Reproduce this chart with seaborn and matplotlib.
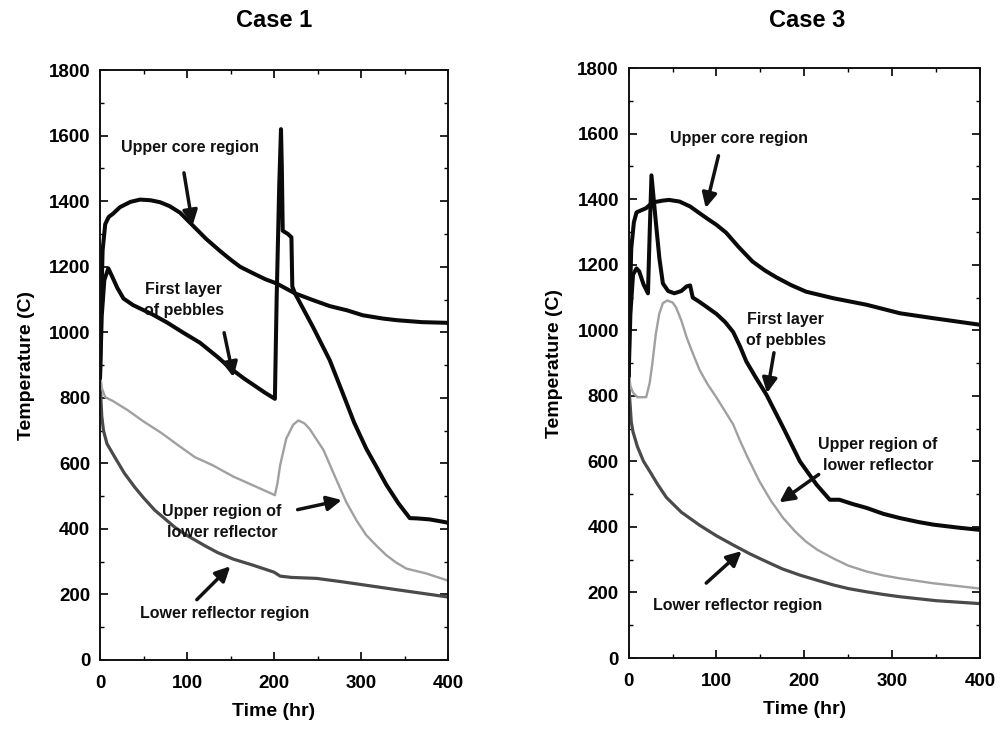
import matplotlib
matplotlib.use("Agg")
import matplotlib.pyplot as plt
import seaborn as sns
from matplotlib.ticker import MultipleLocator

# ---- Case 1 data (time in hr, temperature in C) ----
c1_core_t = [0, 1, 3, 6, 10, 15, 23, 35, 46, 58, 69, 80, 92, 107, 122, 138, 150, 161, 176, 190, 203, 224, 245, 264, 284, 302, 325, 341, 370, 398, 400]
c1_core_T = [860, 1050, 1250, 1330, 1352, 1362, 1382, 1398, 1405, 1403, 1397, 1385, 1365, 1325, 1285, 1248, 1222, 1200, 1180, 1162, 1149, 1119, 1098, 1080, 1067, 1052, 1042, 1037, 1031, 1029, 1028]

c1_peb_t = [0, 2, 5, 9.6, 14, 20, 27, 38, 60, 77, 95, 115, 135, 150, 165, 175, 190, 201, 203, 206, 208, 209, 210, 216, 220, 221, 224, 245, 264, 279, 292, 306, 318, 329, 343, 356, 365, 379, 398, 400]
c1_peb_T = [860, 1050, 1160, 1195, 1170, 1135, 1103, 1083, 1055, 1030, 1000, 968, 925, 890, 860, 842, 815, 797, 1100, 1450, 1620, 1500, 1310, 1300, 1290, 1140, 1119, 1015, 915, 814, 725, 645, 588, 535, 478, 433, 432, 429, 420, 418]

c1_upref_t = [0, 2, 6, 15, 32, 50, 71, 90, 109, 129, 153, 180, 201, 204, 207, 214, 222, 228, 235, 241, 257, 270, 283, 295, 306, 318, 329, 340, 352, 375, 398, 400]
c1_upref_T = [880, 830, 802, 790, 762, 728, 692, 655, 619, 595, 560, 528, 503, 540, 594, 675, 718, 731, 722, 705, 640, 560, 482, 425, 381, 348, 320, 298, 279, 264, 244, 242]

c1_lowref_t = [0, 1, 2, 4, 8, 17, 28, 40, 50, 63, 75, 86, 100, 121, 135, 153, 175, 191, 200, 207, 220, 249, 280, 306, 345, 398, 400]
c1_lowref_T = [880, 800, 745, 700, 660, 619, 570, 527, 495, 457, 430, 405, 380, 348, 328, 308, 290, 276, 268, 256, 252, 249, 238, 228, 213, 193, 192]

# ---- Case 3 data ----
c3_core_t = [0, 1, 3, 6, 9, 20, 27, 39, 46, 58, 70, 81, 90, 100, 111, 125, 141, 155, 168, 185, 202, 233, 271, 309, 347, 400]
c3_core_T = [860, 1050, 1250, 1330, 1360, 1373, 1390, 1396, 1398, 1393, 1378, 1357, 1340, 1322, 1298, 1255, 1210, 1183, 1162, 1138, 1118, 1098, 1078, 1052, 1037, 1017]

c3_peb_t = [0, 2, 5, 9, 12, 17, 22, 24, 26, 31, 35, 39, 45, 52, 60, 66, 70, 73, 80, 88, 100, 110, 119, 127, 134, 145, 157, 176, 195, 214, 229, 240, 255, 271, 290, 309, 330, 347, 375, 400]
c3_peb_T = [860, 1050, 1170, 1189, 1180, 1140, 1113, 1300, 1473, 1330, 1220, 1143, 1120, 1113, 1120, 1134, 1137, 1100, 1088, 1073, 1050, 1025, 995, 950, 905, 855, 803, 703, 600, 529, 483, 483, 470, 458, 440, 427, 415, 407, 398, 391]

c3_upref_t = [0, 2, 5, 10, 20, 24, 27, 31, 35, 39, 44, 50, 54, 60, 66, 73, 81, 90, 100, 110, 119, 127, 135, 149, 162, 176, 190, 202, 215, 233, 250, 271, 290, 309, 347, 400]
c3_upref_T = [876, 830, 810, 796, 796, 840, 899, 990, 1052, 1083, 1091, 1085, 1070, 1030, 979, 930, 878, 835, 795, 752, 713, 662, 615, 539, 480, 427, 385, 355, 330, 304, 282, 264, 252, 243, 228, 212]

c3_lowref_t = [0, 1, 3, 5, 10, 17, 24, 33, 43, 60, 81, 100, 119, 138, 157, 175, 195, 215, 233, 250, 271, 290, 309, 350, 400]
c3_lowref_T = [876, 800, 720, 690, 645, 600, 570, 530, 490, 445, 405, 373, 345, 318, 294, 272, 253, 237, 223, 212, 202, 194, 187, 175, 166]

titles = ["Case 1", "Case 3"]
x_label = "Time (hr)"
y_label = "Temperature (C)"

sns.set_style("ticks")
plt.rcParams['font.family'] = ['Liberation Sans', 'DejaVu Sans']
plt.rcParams['font.weight'] = 'bold'
plt.rcParams['text.color'] = 'black'
plt.rcParams['axes.labelcolor'] = 'black'
plt.rcParams['xtick.color'] = 'black'
plt.rcParams['ytick.color'] = 'black'

fig = plt.figure(figsize=(10.01, 7.30), dpi=100)
ax1 = fig.add_axes([0.0999, 0.0959, 0.3477, 0.808])
ax2 = fig.add_axes([0.628, 0.0986, 0.351, 0.808])

BLACK = '#0a0a0a'
LIGHT = '#a0a0a0'
DARK = '#4a4a4a'


def draw_case(ax, core, peb, upref, lowref):
    sns.lineplot(x=lowref[0], y=lowref[1], ax=ax, color=DARK, linewidth=2.3, sort=False, estimator=None)
    sns.lineplot(x=upref[0], y=upref[1], ax=ax, color=LIGHT, linewidth=1.7, sort=False, estimator=None)
    sns.lineplot(x=core[0], y=core[1], ax=ax, color=BLACK, linewidth=2.9, sort=False, estimator=None)
    sns.lineplot(x=peb[0], y=peb[1], ax=ax, color=BLACK, linewidth=2.9, sort=False, estimator=None)
    ax.set_xlim(0, 400)
    ax.set_ylim(0, 1800)
    ax.xaxis.set_major_locator(MultipleLocator(100))
    ax.xaxis.set_minor_locator(MultipleLocator(50))
    ax.yaxis.set_major_locator(MultipleLocator(200))
    ax.yaxis.set_minor_locator(MultipleLocator(100))
    ax.tick_params(which='both', direction='in', top=True, right=True, labelsize=13.5)
    ax.tick_params(axis='x', pad=11)
    ax.tick_params(axis='y', pad=7)
    ax.tick_params(which='major', length=6, width=1.2)
    ax.tick_params(which='minor', length=3, width=1)
    for lbl in ax.get_xticklabels() + ax.get_yticklabels():
        lbl.set_fontweight('bold')
    for s in ax.spines.values():
        s.set_linewidth(1.4)
        s.set_color('#111111')
    ax.set_xlabel(x_label, fontsize=14, fontweight='bold', labelpad=8)
    ax.set_ylabel(y_label, fontsize=14, fontweight='bold', labelpad=10)


def note(ax, text, pos, tail, tip):
    ax.text(pos[0], pos[1], text, ha='center', va='center', fontsize=11.5,
            fontweight='bold', linespacing=1.5, color='#111111')
    ax.annotate('', xy=tip, xytext=tail,
                arrowprops=dict(arrowstyle='-|>', color='#111111', lw=2.5, mutation_scale=22))


draw_case(ax1, (c1_core_t, c1_core_T), (c1_peb_t, c1_peb_T), (c1_upref_t, c1_upref_T), (c1_lowref_t, c1_lowref_T))
draw_case(ax2, (c3_core_t, c3_core_T), (c3_peb_t, c3_peb_T), (c3_upref_t, c3_upref_T), (c3_lowref_t, c3_lowref_T))

# Case 1 labels
note(ax1, "Upper core region", (103, 1564), (96, 1495), (107, 1318))
note(ax1, "First layer\nof pebbles", (96, 1098), (142, 1007), (154, 855))
note(ax1, "Upper region of\nlower reflector", (140, 420), (224, 457), (281, 490))
note(ax1, "Lower reflector region", (143, 142), (109, 178), (152, 292))

# Case 3 labels
note(ax2, "Upper core region", (126, 1586), (103, 1541), (87, 1365))
note(ax2, "First layer\nof pebbles", (179, 1000), (166, 940), (157, 800))
note(ax2, "Upper region of\nlower reflector", (284, 620), (219, 565), (169, 470))
note(ax2, "Lower reflector region", (124, 161), (86, 223), (131, 332))

fig.text(0.2735, 0.972, titles[0], ha='center', va='center', fontsize=17, fontweight='bold')
fig.text(0.806, 0.972, titles[1], ha='center', va='center', fontsize=17, fontweight='bold')

fig.savefig("out.png", dpi=100)
